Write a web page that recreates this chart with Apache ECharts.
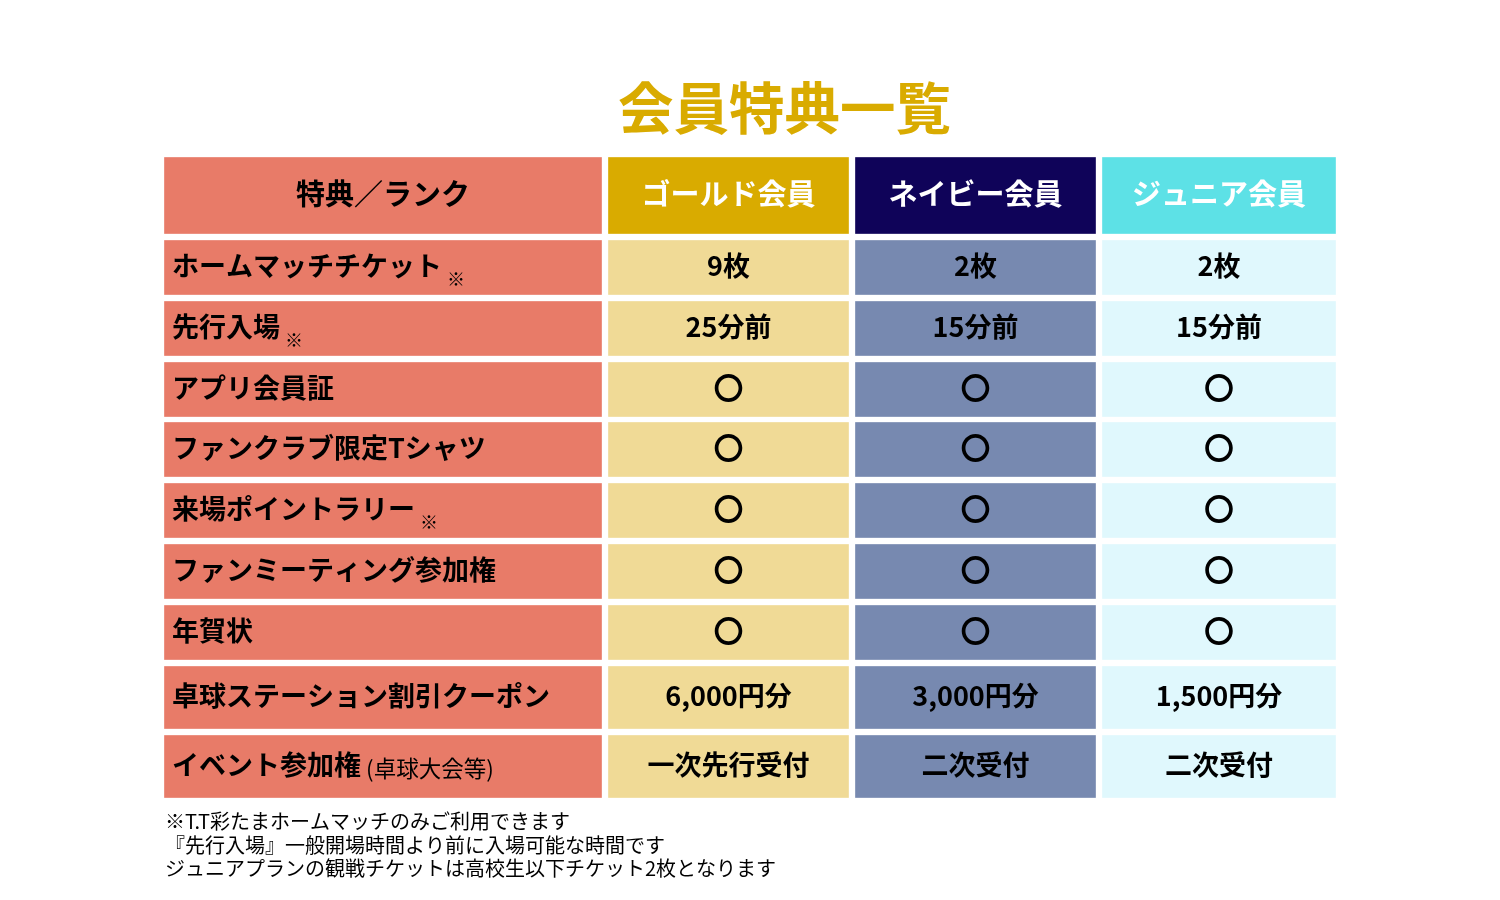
<!DOCTYPE html>
<html><head><meta charset="utf-8">
<script src="https://cdn.jsdelivr.net/npm/echarts@6/dist/echarts.min.js"></script>
<style>html,body{margin:0;padding:0;background:#fff}#c{width:1500px;height:900px}</style>
</head><body><div id="c"></div>
<script>
// ---- data ----
const chartTitle = '会員特典一覧';
const cornerLabel = '特典／ランク';
const ranks = ['ゴールド会員', 'ネイビー会員', 'ジュニア会員'];
const benefits = ['ホームマッチチケット', '先行入場', 'アプリ会員証', 'ファンクラブ限定Tシャツ', '来場ポイントラリー', 'ファンミーティング参加権', '年賀状', '卓球ステーション割引クーポン', 'イベント参加権'];
const benefitNotes = ['※', '※', '', '', '※', '', '', '', ''];
const benefitSuffix = ['', '', '', '', '', '', '', '', '(卓球大会等)'];
const goldValues = ['9枚', '25分前', '〇', '〇', '〇', '〇', '〇', '6,000円分', '一次先行受付'];
const navyValues = ['2枚', '15分前', '〇', '〇', '〇', '〇', '〇', '3,000円分', '二次受付'];
const juniorValues = ['2枚', '15分前', '〇', '〇', '〇', '〇', '〇', '1,500円分', '二次受付'];
const footnotes = [
  '※T.T彩たまホームマッチのみご利用できます',
  '『先行入場』一般開場時間より前に入場可能な時間です',
  'ジュニアプランの観戦チケットは高校生以下チケット2枚となります'
];

// ---- layout (axis units = px inside grid) ----
const colEdges = [[0, 438], [444, 685], [691, 932], [938, 1172]];
const rowEdges = [[0, 77], [83, 138], [144, 199], [205, 260], [265, 320], [326, 381], [387, 442], [448, 503], [509, 572], [578, 641]];
const headerColors = ['#E87B68', '#D9AB00', '#0F0359', '#5DE1E6'];
const bodyColors = ['#E87B68', '#F0DA96', '#7789B0', '#E0F8FD'];
const FONT = '"Noto Sans CJK JP", "Noto Sans", sans-serif';
const TEXT_DY = -2;

const valueCols = [goldValues, navyValues, juniorValues];
const cells = [];
for (let r = 0; r <= benefits.length; r++) {
  for (let c = 0; c < 4; c++) cells.push([c, r]);
}

function renderItem(params, api) {
  const c = api.value(0), r = api.value(1);
  const p0 = api.coord([colEdges[c][0], rowEdges[r][0]]);
  const p1 = api.coord([colEdges[c][1], rowEdges[r][1]]);
  const x = Math.min(p0[0], p1[0]), y = Math.min(p0[1], p1[1]);
  const w = Math.abs(p1[0] - p0[0]), h = Math.abs(p1[1] - p0[1]);
  const fill = r === 0 ? headerColors[c] : bodyColors[c];
  const cy = y + h / 2 + TEXT_DY;
  const children = [{
    type: 'rect', shape: { x: x, y: y, width: w, height: h },
    style: { fill: fill, stroke: 'rgba(255,255,255,0.35)', lineWidth: 1 }
  }];
  let textEl;
  if (r === 0) {
    textEl = {
      type: 'text',
      style: {
        x: x + w / 2, y: cy, text: c === 0 ? cornerLabel : ranks[c - 1],
        fill: c === 0 ? '#000' : '#fff', fontSize: 29, fontWeight: 'bold', fontFamily: FONT,
        align: 'center', verticalAlign: 'middle'
      }
    };
  } else if (c === 0) {
    const i = r - 1;
    let t = '{m|' + benefits[i] + '}';
    if (benefitNotes[i]) t += '{n|' + benefitNotes[i] + '}';
    if (benefitSuffix[i]) t += '{s| ' + benefitSuffix[i] + '}';
    textEl = {
      type: 'text',
      style: {
        x: x + 8, y: cy, text: t, align: 'left', verticalAlign: 'middle',
        fontFamily: FONT,
        rich: {
          m: { fontSize: 27, fontWeight: 'bold', fontFamily: FONT, lineHeight: 46, fill: '#000' },
          n: { fontSize: 18, fontFamily: FONT, lineHeight: 18, verticalAlign: 'bottom', fill: '#000', padding: [0, 0, 0, 5] },
          s: { fontSize: 22.5, fontFamily: FONT, lineHeight: 46, fill: '#000', padding: [8, 0, 0, 0] }
        }
      }
    };
  } else {
    const v = valueCols[c - 1][r - 1];
    textEl = {
      type: 'text',
      style: {
        x: x + w / 2, y: cy, text: v, fill: '#000',
        fontSize: v === '〇' ? 30 : 27, fontWeight: 'bold', fontFamily: FONT,
        align: 'center', verticalAlign: 'middle'
      }
    };
  }
  children.push(textEl);
  return { type: 'group', children: children };
}

const chart = echarts.init(document.getElementById('c'), null, { renderer: 'canvas' });
chart.setOption({
  backgroundColor: '#ffffff',
  animation: false,
  title: {
    text: chartTitle, left: 613, top: 72,
    textStyle: { fontSize: 55.5, fontWeight: 'bold', color: '#D9AB00', fontFamily: FONT, lineHeight: 62 }
  },
  grid: { left: 164, top: 157, width: 1172, height: 641 },
  xAxis: { type: 'value', min: 0, max: 1172, show: false },
  yAxis: { type: 'value', min: 0, max: 641, inverse: true, show: false },
  series: [{
    type: 'custom', renderItem: renderItem, data: cells, silent: true,
    encode: { x: 0, y: 1 }
  }],
  graphic: [{
    type: 'text', left: 165, top: 810,
    style: {
      text: footnotes.join('\n'), fontSize: 20, lineHeight: 23.5,
      fontFamily: FONT, fill: '#000'
    }
  }]
});
</script></body></html>
